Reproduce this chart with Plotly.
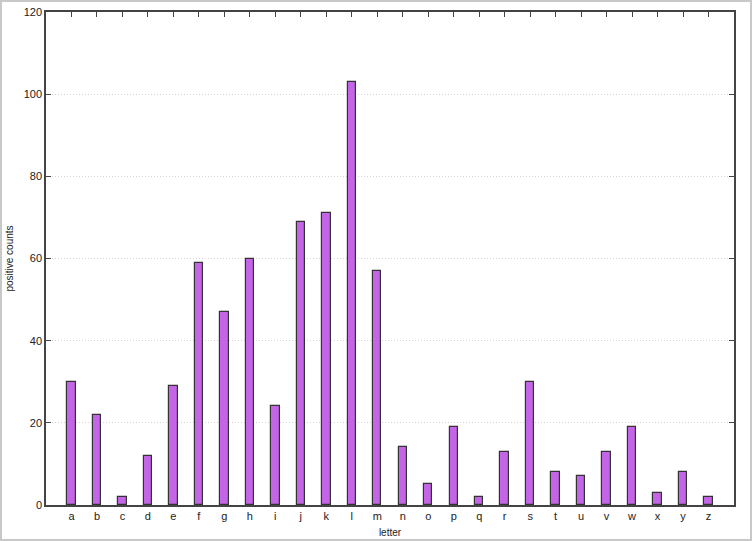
import plotly.graph_objects as go

letters = list("abcdefghijklmnopqrstuvwxyz")
counts = [30, 22, 2, 12, 29, 59, 47, 60, 24, 69, 71, 103, 57,
          14, 5, 19, 2, 13, 30, 8, 7, 13, 19, 3, 8, 2]
y_ticks = [0, 20, 40, 60, 80, 100, 120]

W, H = 752, 541
ML, MR, MT, MB = 46, 18, 12, 36
pw, ph = W - ML - MR, H - MT - MB
positions = list(range(len(letters)))
x_range = [-1, len(letters)]

fig = go.Figure(go.Bar(
    x=positions,
    y=counts,
    width=0.33,
    marker=dict(color="#c464e6", line=dict(color="#333333", width=1.2)),
))

axis_line = dict(showline=True, linecolor="#444444", linewidth=1.5,
                 showgrid=False, zeroline=False, automargin=False)

fig.update_layout(
    width=W, height=H,
    margin=dict(l=ML, r=MR, t=MT, b=MB),
    paper_bgcolor="white",
    plot_bgcolor="white",
    showlegend=False,
    font=dict(family="Liberation Sans, Arial, sans-serif", size=11, color="#222222"),
    bargap=0,
    xaxis=dict(
        range=x_range, tickvals=positions, ticktext=letters, ticks="",
        title=dict(text="letter", font=dict(size=10), standoff=8),
        **axis_line,
    ),
    # top axis only carries the tick marks, like gnuplot's mirrored tics
    xaxis2=dict(
        overlaying="x", side="top", anchor="y",
        range=x_range, tickvals=positions,
        ticks="inside", ticklen=5, tickcolor="#444444",
        showticklabels=False, **axis_line,
    ),
    yaxis=dict(
        range=[0, 120], tickvals=y_ticks,
        ticks="inside", ticklen=5, tickcolor="#444444",
        showline=True, linecolor="#444444", linewidth=1.5,
        mirror="ticks", showgrid=True, gridcolor="#d4d4d4", griddash="1px,2px",
        gridwidth=1, zeroline=False, automargin=False,
        title=dict(text="positive counts", font=dict(size=10), standoff=8),
    ),
)

# invisible trace so the top axis gets drawn
fig.add_trace(go.Scatter(x=x_range, y=[None, None], xaxis="x2", yaxis="y",
                         mode="lines", hoverinfo="skip"))

# light grey frame round the whole picture
fig.add_shape(
    type="rect", xref="paper", yref="paper",
    x0=-(ML - 1) / pw, x1=1 + (MR - 1) / pw,
    y0=-(MB - 1) / ph, y1=1 + (MT - 1) / ph,
    line=dict(color="#c8c8c8", width=2),
)

fig.write_html(
    "out.html",
    config={"displayModeBar": False},
    post_script="document.body.style.margin='0';document.body.style.overflow='hidden';",
)
